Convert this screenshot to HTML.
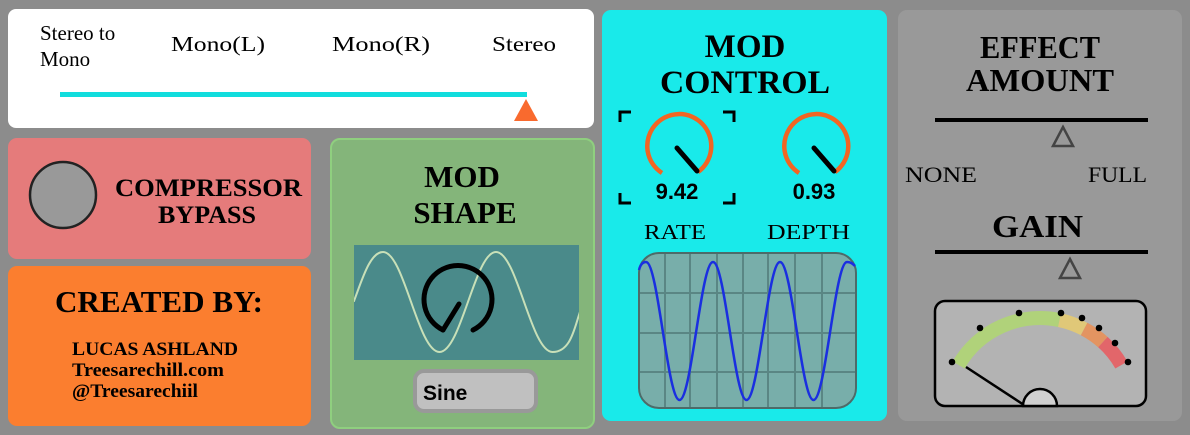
<!DOCTYPE html>
<html><head><meta charset="utf-8"><style>
html,body{margin:0;padding:0;background:#8c8c8c;}
svg{display:block}
.s{font-family:"Liberation Serif",serif;}
.b{font-family:"Liberation Sans",sans-serif;font-weight:bold;}
</style></head><body>
<svg width="1190" height="435" viewBox="0 0 1190 435" xmlns="http://www.w3.org/2000/svg">
<rect width="1190" height="435" fill="#8c8c8c"/>
<rect x="8" y="9" width="586" height="119" rx="8" fill="#fff"/>
<g class="s" font-size="21" fill="#000">
<text x="40" y="40">Stereo to</text><text x="40" y="66">Mono</text>
<text x="171" y="51" textLength="94" lengthAdjust="spacingAndGlyphs">Mono(L)</text>
<text x="332" y="51" textLength="98" lengthAdjust="spacingAndGlyphs">Mono(R)</text>
<text x="492" y="51" textLength="64" lengthAdjust="spacingAndGlyphs">Stereo</text>
</g>
<rect x="60" y="92" width="467" height="5" fill="#11dddd"/>
<polygon points="526,99 538,121 514,121" fill="#f96a2e"/>

<rect x="8" y="138" width="303" height="121" rx="9" fill="#e57b7b"/>
<circle cx="63" cy="195" r="33" fill="#999" stroke="#222" stroke-width="2.5"/>
<g class="s" font-size="25" font-weight="bold">
<text x="115" y="196" textLength="187" lengthAdjust="spacingAndGlyphs">COMPRESSOR</text>
<text x="158" y="223" textLength="98" lengthAdjust="spacingAndGlyphs">BYPASS</text></g>
<rect x="8" y="266" width="303" height="160" rx="9" fill="#fb7e2f"/>
<text class="s" x="55" y="312" font-size="31" font-weight="bold" textLength="208" lengthAdjust="spacingAndGlyphs">CREATED BY:</text>
<g class="s" font-size="19" font-weight="bold">
<text x="72" y="355" textLength="166" lengthAdjust="spacingAndGlyphs">LUCAS ASHLAND</text>
<text x="72" y="376" textLength="152" lengthAdjust="spacingAndGlyphs">Treesarechill.com</text>
<text x="72" y="397" textLength="126" lengthAdjust="spacingAndGlyphs">@Treesarechiil</text></g>

<rect x="331" y="139" width="263" height="289" rx="9" fill="#84b57a" stroke="#8fcf7f" stroke-width="2"/>
<g class="s" font-size="31" font-weight="bold" text-anchor="middle">
<text x="462" y="187">MOD</text><text x="465" y="223">SHAPE</text></g>
<defs><clipPath id="c1"><rect x="354" y="245" width="225" height="115"/></clipPath>
<clipPath id="c2"><rect x="639" y="253" width="217" height="155" rx="20"/></clipPath></defs>
<rect x="354" y="245" width="225" height="115" fill="#4a8a8a"/>
<path clip-path="url(#c1)" d="M345,320 C350,310 352,301 354,301 C362,280 370,252 383,252 C404,252 418,352 439.5,352 C461,352 475,252 496,252 C517,252 531,352 552.5,352 C570,352 574,330 579,315 C582,305 584,300 590,290" fill="none" stroke="#c8e0b8" stroke-width="2"/>
<path d="M443,330 A34 34 0 1 1 473,330" fill="none" stroke="#000" stroke-width="5" stroke-linecap="round"/>
<line x1="443" y1="330" x2="459" y2="304" stroke="#000" stroke-width="5" stroke-linecap="round"/>
<rect x="415" y="371" width="121" height="40" rx="9" fill="#c0c0c0" stroke="#999" stroke-width="4"/>
<text class="b" x="423" y="400" font-size="21">Sine</text>

<rect x="602" y="10" width="285" height="411" rx="9" fill="#19eaea"/>
<g class="s" font-size="33" font-weight="bold" text-anchor="middle">
<text x="745" y="57">MOD</text><text x="745" y="93" textLength="170" lengthAdjust="spacingAndGlyphs">CONTROL</text></g>
<g stroke="#000" stroke-width="3" fill="none">
<path d="M620,122 V112 H631"/><path d="M723,112 H734 V122"/>
<path d="M620,193 V203 H631"/><path d="M723,203 H734 V193"/>
</g>
<path d="M662,173 A32 32 0 1 1 698,172" fill="none" stroke="#f26522" stroke-width="4.5"/>
<line x1="677" y1="148" x2="697" y2="171" stroke="#000" stroke-width="5" stroke-linecap="round"/>
<path d="M799,173 A32 32 0 1 1 835,172" fill="none" stroke="#f26522" stroke-width="4.5"/>
<line x1="814" y1="148" x2="834" y2="171" stroke="#000" stroke-width="5" stroke-linecap="round"/>
<text class="b" x="677" y="199" font-size="22" text-anchor="middle">9.42</text>
<text class="b" x="814" y="199" font-size="22" text-anchor="middle">0.93</text>
<text class="s" x="644" y="239" font-size="21" textLength="62" lengthAdjust="spacingAndGlyphs">RATE</text>
<text class="s" x="767" y="239" font-size="21" textLength="83" lengthAdjust="spacingAndGlyphs">DEPTH</text>
<rect x="639" y="253" width="217" height="155" rx="20" fill="#78aeaa"/>
<g clip-path="url(#c2)" stroke="#5a8684" stroke-width="2">
<line x1="665" y1="253" x2="665" y2="408"/><line x1="690" y1="253" x2="690" y2="408"/>
<line x1="717" y1="253" x2="717" y2="408"/><line x1="743" y1="253" x2="743" y2="408"/>
<line x1="768" y1="253" x2="768" y2="408"/><line x1="795" y1="253" x2="795" y2="408"/>
<line x1="822" y1="253" x2="822" y2="408"/>
<line x1="639" y1="293" x2="856" y2="293"/><line x1="639" y1="333" x2="856" y2="333"/>
<line x1="639" y1="372" x2="856" y2="372"/>
</g>
<rect x="639" y="253" width="217" height="155" rx="20" fill="none" stroke="#4d6b69" stroke-width="2"/>
<path d="M639,270 Q641,262 646,262 C658,262 667.5,400 679.5,400 C691.5,400 701,262 713,262 C725,262 734.5,400 746.5,400 C758.5,400 768,262 780,262 C792,262 801.5,400 813.5,400 C825.5,400 835,262 847,262 C851,262 853,264 855,266" fill="none" stroke="#1a2fe0" stroke-width="2.5"/>

<rect x="898" y="10" width="284" height="411" rx="9" fill="#999"/>
<g class="s" font-size="32" font-weight="bold">
<text x="980" y="58" textLength="120" lengthAdjust="spacingAndGlyphs">EFFECT</text>
<text x="966" y="91" textLength="148" lengthAdjust="spacingAndGlyphs">AMOUNT</text>
<text x="992" y="237" textLength="91" lengthAdjust="spacingAndGlyphs">GAIN</text></g>
<rect x="935" y="118" width="213" height="4" fill="#000"/>
<polygon points="1063,127 1073,146 1053,146" fill="none" stroke="#444" stroke-width="2.5"/>
<text class="s" x="905" y="182" font-size="22" textLength="72" lengthAdjust="spacingAndGlyphs">NONE</text>
<text class="s" x="1088" y="182" font-size="22" textLength="59" lengthAdjust="spacingAndGlyphs">FULL</text>
<rect x="935" y="250" width="213" height="4" fill="#000"/>
<polygon points="1070,259 1080,278 1060,278" fill="none" stroke="#444" stroke-width="2.5"/>
<rect x="935" y="301" width="211" height="105" rx="10" fill="#b3b3b3" stroke="#000" stroke-width="2.5"/>
<g fill="none" stroke-width="14">
<path d="M958.6,365 A94 94 0 0 1 1059.5,320.1" stroke="#b0d27a"/>
<path d="M1059.5,320.1 A94 94 0 0 1 1084.1,329" stroke="#e0c878"/>
<path d="M1084.1,329 A94 94 0 0 1 1102.9,342.1" stroke="#e39461"/>
<path d="M1102.9,342.1 A94 94 0 0 1 1121.4,365" stroke="#e2666a"/>
</g>
<g fill="#000">
<circle cx="952" cy="362" r="3.3"/><circle cx="980" cy="328" r="3.3"/><circle cx="1019" cy="313" r="3.3"/>
<circle cx="1061" cy="313" r="3.3"/><circle cx="1082" cy="318" r="3.3"/><circle cx="1099" cy="328" r="3.3"/>
<circle cx="1115" cy="343" r="3.3"/><circle cx="1128" cy="362" r="3.3"/></g>
<line x1="966" y1="367" x2="1024" y2="405" stroke="#000" stroke-width="2.5"/>
<path d="M1023,406 A17 17 0 0 1 1057,406 Z" fill="#d0d0d0" stroke="#000" stroke-width="2.5"/>
</svg>
</body></html>
